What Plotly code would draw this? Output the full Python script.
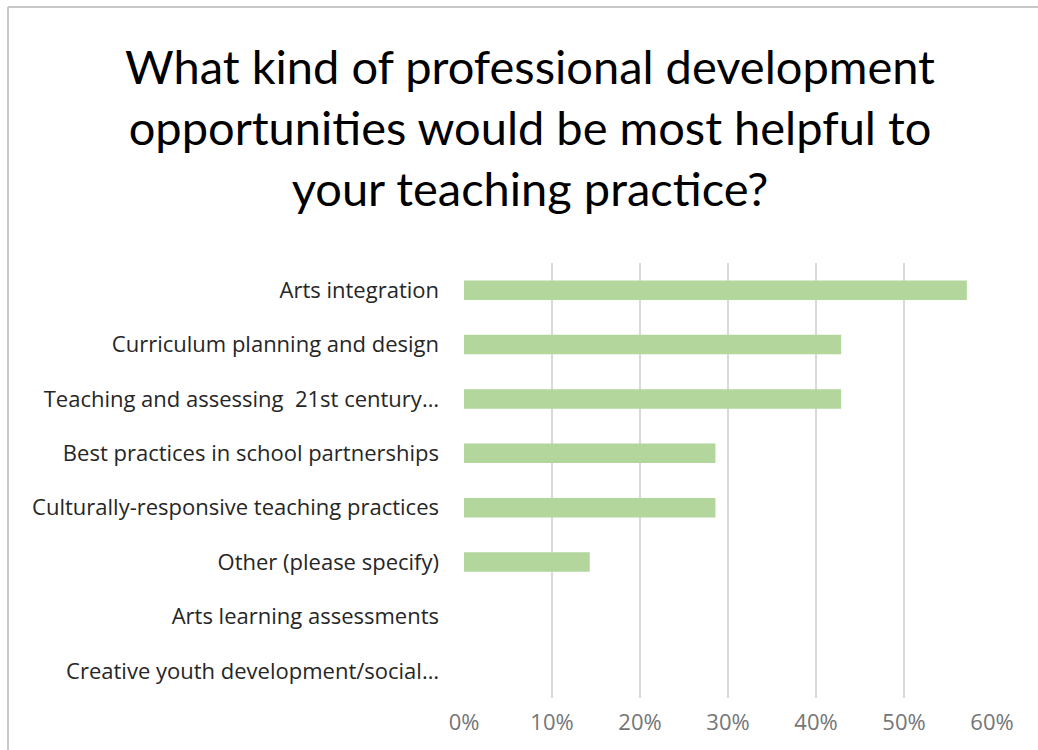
import plotly.graph_objects as go

# Survey responses (share of respondents choosing each option)
categories = [
    "Arts integration",
    "Curriculum planning and design",
    "Teaching and assessing  21st century…",
    "Best practices in school partnerships",
    "Culturally-responsive teaching practices",
    "Other (please specify)",
    "Arts learning assessments",
    "Creative youth development/social…",
]
shares = [0.5714, 0.4286, 0.4286, 0.2857, 0.2857, 0.1429, 0.0, 0.0]
tick_values = [0, 0.1, 0.2, 0.3, 0.4, 0.5, 0.6]
tick_labels = ["0%", "10%", "20%", "30%", "40%", "50%", "60%"]

title_text = ("What kind of professional development<br>"
              "opportunities would be most helpful to<br>"
              "your teaching practice?")

W, H = 1038, 750
ML, MR, MT, MB = 464, 46, 263, 52

fig = go.Figure(
    go.Bar(
        x=shares,
        y=categories,
        orientation="h",
        marker=dict(color="#b2d69b", line=dict(width=0)),
        width=0.36,
        hoverinfo="skip",
    )
)

# chart frame (top and left edges)
plot_w = W - ML - MR
plot_h = H - MT - MB
px_x = lambda p: (p - ML) / plot_w
px_y = lambda p: (H - MB - p) / plot_h
fig.add_shape(type="line", xref="paper", yref="paper",
              x0=px_x(8), x1=px_x(1040), y0=px_y(7), y1=px_y(7),
              line=dict(color="#c8c8c8", width=2))
fig.add_shape(type="line", xref="paper", yref="paper",
              x0=px_x(8), x1=px_x(8), y0=px_y(7), y1=px_y(752),
              line=dict(color="#c8c8c8", width=2))

fig.update_layout(
    width=W,
    height=H,
    margin=dict(l=ML, r=MR, t=MT, b=MB),
    paper_bgcolor="white",
    plot_bgcolor="white",
    showlegend=False,
    title=dict(
        text=title_text,
        x=530 / W,
        xanchor="center",
        y=1 - 84 / H,
        yanchor="top",
        yref="container",
        font=dict(family="Lato", size=47, color="#000000"),
    ),
    xaxis=dict(
        range=[0, 0.6],
        tickvals=tick_values,
        ticktext=tick_labels,
        showgrid=True,
        gridcolor="#d9d9d9",
        gridwidth=2,
        zeroline=False,
        showline=False,
        ticks="",
        tickfont=dict(family="Open Sans", size=22, color="#757575"),
        ticklabelstandoff=9,
        fixedrange=True,
    ),
    yaxis=dict(
        autorange="reversed",
        showgrid=False,
        zeroline=False,
        showline=False,
        ticks="",
        tickfont=dict(family="Open Sans", size=22, color="#262626"),
        ticklabelstandoff=24,
        fixedrange=True,
    ),
)

fig.write_html("out.html")
